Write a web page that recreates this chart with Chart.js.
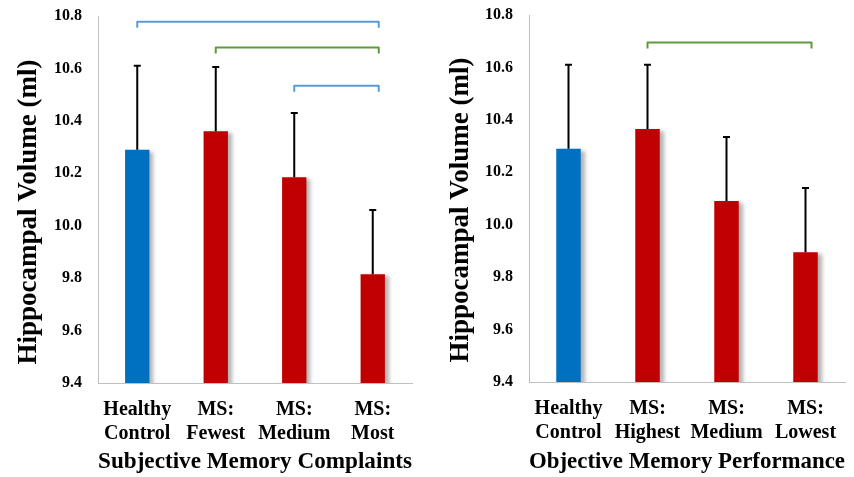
<!DOCTYPE html>
<html>
<head>
<meta charset="utf-8">
<script src="https://cdn.jsdelivr.net/npm/chart.js@4.4.1/dist/chart.umd.min.js"></script>
<style>
	html, body { margin: 0; padding: 0; background: #fff; }
	#wrap { position: relative; width: 854px; height: 477px; }
	.box { position: absolute; top: 0; width: 427px; height: 477px; }
</style>
</head>
<body>
<div id="wrap">
	<div class="box" style="left:0"><canvas id="subjChart"></canvas></div>
	<div class="box" style="left:427px"><canvas id="objChart"></canvas></div>
</div>
<script>
// left panel: subjective memory complaints
var subjLabels = [["Healthy", "Control"], ["MS:", "Fewest"], ["MS:", "Medium"], ["MS:", "Most"]];
var subjMeans = [10.29, 10.36, 10.185, 9.815];
var subjErr = [0.32, 0.245, 0.245, 0.245];
// significance brackets: [from bar, to bar, height in ml]
var subjBrackets = [[0, 3, 10.778], [1, 3, 10.68], [2, 3, 10.534]];

// right panel: objective memory performance
var objLabels = [["Healthy", "Control"], ["MS:", "Highest"], ["MS:", "Medium"], ["MS:", "Lowest"]];
var objMeans = [10.29, 10.365, 10.09, 9.895];
var objErr = [0.32, 0.245, 0.245, 0.245];
var objBrackets = [[1, 3, 10.695]];

var yTicks = [9.4, 9.6, 9.8, 10.0, 10.2, 10.4, 10.6, 10.8];

var serif = "'Liberation Serif', 'Times New Roman', serif";
var blue = "#0070c0";
var red = "#c00000";

// shadow under the bars, error bars, brackets, rotated y title
var extras = {
	id: 'extras',
	beforeDatasetsDraw: function(chart) {
		var ctx = chart.ctx;
		ctx.save();
		ctx.shadowColor = "rgba(0,0,0,0.3)";
		ctx.shadowOffsetX = 4;
		ctx.shadowOffsetY = 2;
		ctx.shadowBlur = 4;
	},
	afterDatasetsDraw: function(chart, args, opts) {
		var ctx = chart.ctx;
		ctx.restore();
		var xs = chart.scales.x, ys = chart.scales.y;
		var meta = chart.getDatasetMeta(0);
		var ds = chart.data.datasets[0];

		ctx.save();
		ctx.strokeStyle = "#000";
		ctx.lineWidth = 2;
		meta.data.forEach(function(bar, i) {
			var top = ys.getPixelForValue(ds.data[i] + opts.err[i]);
			ctx.beginPath();
			ctx.moveTo(bar.x, bar.y);
			ctx.lineTo(bar.x, top);
			ctx.moveTo(bar.x - 3.5, top);
			ctx.lineTo(bar.x + 3.5, top);
			ctx.stroke();
		});

		ctx.lineWidth = 2;
		ctx.lineJoin = "round";
		opts.brackets.forEach(function(b, i) {
			var x1 = xs.getPixelForValue(b[0]);
			var x2 = xs.getPixelForValue(b[1]) + 6;
			var y = ys.getPixelForValue(b[2]);
			ctx.strokeStyle = opts.colors[i];
			ctx.beginPath();
			ctx.moveTo(x1, y + 6);
			ctx.lineTo(x1, y);
			ctx.lineTo(x2, y);
			ctx.lineTo(x2, y + 6);
			ctx.stroke();
		});

		ctx.fillStyle = "#000";
		ctx.font = "bold 27px " + serif;
		ctx.textAlign = "center";
		ctx.textBaseline = "middle";
		ctx.translate(opts.titleX, opts.titleY);
		ctx.rotate(-Math.PI / 2);
		ctx.fillText("Hippocampal Volume (ml)", 0, 0);
		ctx.restore();
	}
};

function makeChart(id, labels, means, err, brackets, colors, xTitle, pad, yWidth, xHeight, titleX, titleY) {
	var ctx = document.getElementById(id).getContext("2d");
	return new Chart(ctx, {
		type: 'bar',
		data: {
			labels: labels,
			datasets: [{
				data: means,
				backgroundColor: [blue, red, red, red],
				borderWidth: 0,
				categoryPercentage: 1,
				barPercentage: 0.31
			}]
		},
		options: {
			responsive: true,
			maintainAspectRatio: false,
			animation: false,
			layout: { padding: pad },
			plugins: {
				legend: { display: false },
				tooltip: { enabled: false },
				extras: { err: err, brackets: brackets, colors: colors, titleX: titleX, titleY: titleY }
			},
			scales: {
				x: {
					grid: { display: false, drawTicks: false },
					border: { color: "#bfbfbf", width: 1 },
					ticks: {
						color: "#000",
						padding: 15,
						maxRotation: 0,
						font: { family: serif, size: 20, weight: 'bold', lineHeight: 1.2 }
					},
					title: {
						display: true,
						text: xTitle,
						color: "#000",
						padding: { top: 0, bottom: 1 },
						font: { family: serif, size: 24, weight: 'bold' }
					},
					afterFit: function(s) { s.height = xHeight; }
				},
				y: {
					min: 9.4,
					max: 10.8,
					grid: { display: false, drawTicks: false },
					border: { color: "#bfbfbf", width: 1 },
					afterBuildTicks: function(s) { s.ticks = yTicks.map(function(v) { return { value: v }; }); },
					ticks: {
						color: "#000",
						padding: 16,
						font: { family: serif, size: 16, weight: 'bold' },
						callback: function(v) { return Number(v).toFixed(1); }
					},
					afterFit: function(s) {
						s.width = yWidth;
						s.paddingTop = 0;
						s.paddingBottom = 0;
					}
				}
			}
		},
		plugins: [extras]
	});
}

window.onload = function() {
	makeChart("subjChart", subjLabels, subjMeans, subjErr, subjBrackets,
		["#5b9bd5", "#5f9a3c", "#5b9bd5"], "Subjective Memory Complaints",
		{ top: 16, right: 15, bottom: 0, left: 0 }, 98, 94, 29, 212);
	makeChart("objChart", objLabels, objMeans, objErr, objBrackets,
		["#5f9a3c"], "Objective Memory Performance",
		{ top: 15, right: 9, bottom: 0, left: 0 }, 102, 95, 34, 210);
};
</script>
</body>
</html>
